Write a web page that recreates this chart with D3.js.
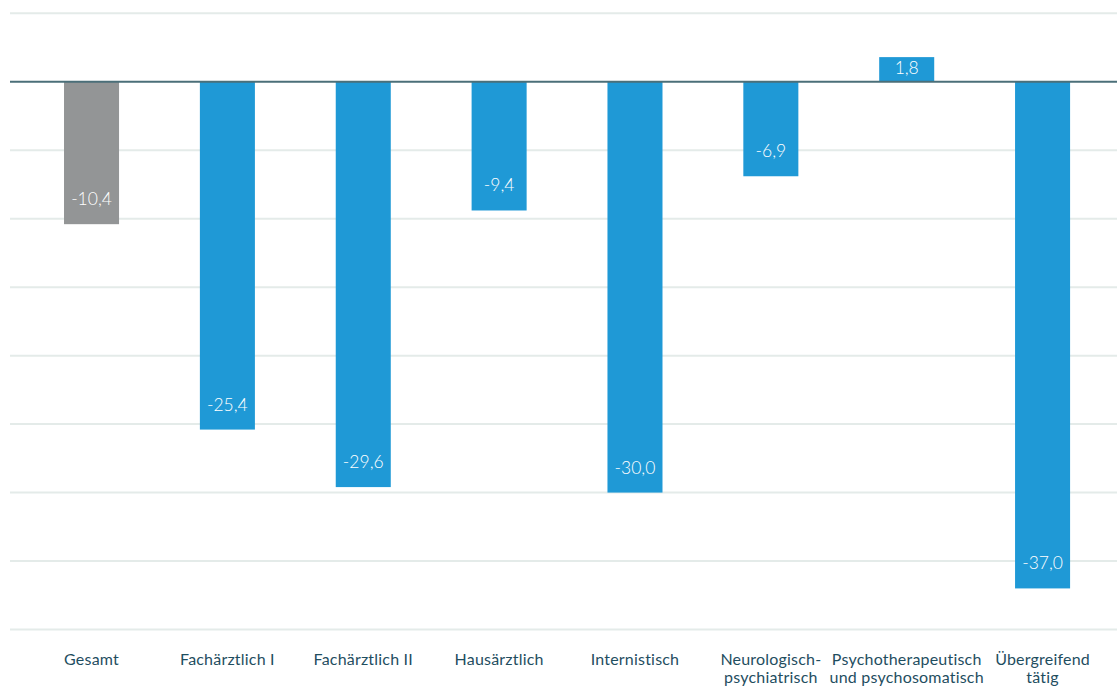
<!DOCTYPE html>
<html>
<head>
<meta charset="utf-8">
<script src="https://cdn.jsdelivr.net/npm/d3@7"></script>
<style>
  body { margin: 0; background: #fff; }
  svg { display: block; font-family: Lato, "Open Sans", sans-serif; }
</style>
</head>
<body>
<svg id="chart" width="1117" height="688"></svg>
<script>
// data
var categories = ["Gesamt", "Fachärztlich I", "Fachärztlich II", "Hausärztlich", "Internistisch",
    "Neurologisch-\npsychiatrisch", "Psychotherapeutisch\nund psychosomatisch", "Übergreifend\ntätig"];
var values = [-10.4, -25.4, -29.6, -9.4, -30.0, -6.9, 1.8, -37.0];
var yTicks = [5, 0, -5, -10, -15, -20, -25, -30, -35, -40];

var svg = d3.select("#chart"),
    width = +svg.attr("width"),
    height = +svg.attr("height");

var x = d3.scaleBand()
    .domain(categories)
    .range([23.6, 1110.5])
    .paddingInner(0.595)
    .paddingOuter(0.2975);

var y = d3.scaleLinear()
    .domain([-40, 5])
    .range([629.5, 13.3]);

var fmt = function(v) { return d3.format(".1f")(v).replace(".", ",").replace("−", "-"); };

// gridlines
svg.append("g").selectAll("line").data(yTicks.filter(function(d) { return d !== 0; })).enter()
    .append("line")
    .attr("x1", 10)
    .attr("x2", width)
    .attr("y1", function(d) { return y(d); })
    .attr("y2", function(d) { return y(d); })
    .style("stroke", "#e4ebe9")
    .style("stroke-width", 2);

// bars
svg.append("g").selectAll("rect").data(values).enter()
    .append("rect")
    .attr("x", function(d, i) { return x(categories[i]); })
    .attr("width", x.bandwidth())
    .attr("y", function(d) { return y(Math.max(0, d)); })
    .attr("height", function(d) { return Math.abs(y(d) - y(0)); })
    .attr("fill", function(d, i) { return i === 0 ? "#939596" : "#1f99d6"; });

// zero line
svg.append("line")
    .attr("x1", 10)
    .attr("x2", width)
    .attr("y1", y(0))
    .attr("y2", y(0))
    .style("stroke", "#4b6f79")
    .style("stroke-width", 2);

// value labels
svg.append("g").selectAll("text").data(values).enter()
    .append("text")
    .attr("x", function(d, i) { return x(categories[i]) + x.bandwidth() / 2; })
    .attr("y", function(d) { return d < 0 ? y(d) - 19 : y(d) + 16.5; })
    .attr("text-anchor", "middle")
    .attr("fill", "#fff")
    .style("font-size", "17.5px")
    .style("font-weight", 300)
    .text(fmt);

// category labels
var lab = svg.append("g").selectAll("text").data(categories).enter()
    .append("text")
    .attr("x", function(d) { return x(d) + x.bandwidth() / 2; })
    .attr("y", 665)
    .attr("text-anchor", "middle")
    .attr("fill", "#1f4e5f")
    .style("font-size", "16px")
    .style("letter-spacing", "0.2px");

lab.selectAll("tspan").data(function(d) { return d.split("\n"); }).enter()
    .append("tspan")
    .attr("x", function() { return d3.select(this.parentNode).attr("x"); })
    .attr("dy", function(d, i) { return i === 0 ? 0 : 18; })
    .text(function(d) { return d; });
</script>
</body>
</html>
